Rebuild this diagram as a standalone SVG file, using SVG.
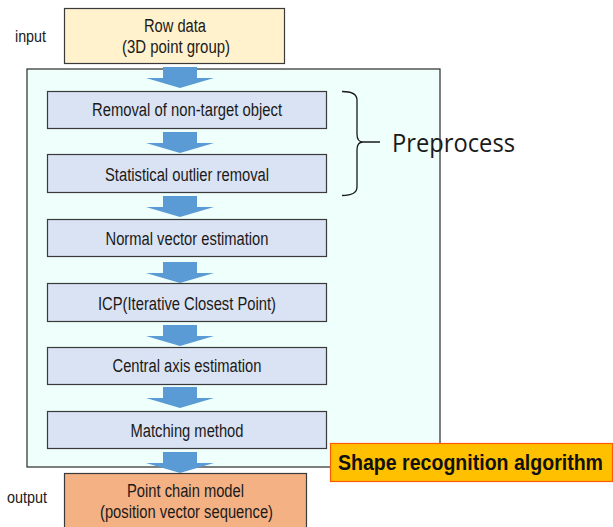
<svg xmlns="http://www.w3.org/2000/svg" width="613" height="527" viewBox="0 0 613 527">
<defs>
<style>
.t{font-family:"Liberation Sans",Arial,sans-serif;font-size:18px;fill:#1a1a1a;text-anchor:middle}
.lbl{font-family:"Liberation Sans",Arial,sans-serif;font-size:16px;fill:#1a1a1a}
.step{fill:#dae3f3;stroke:#3a3a3a;stroke-width:1.2}
.arr{fill:#5b9bd5}
</style>
<polygon id="arrow" points="163,0 197,0 197,11 214,11 180,21 146,11 163,11"/>
</defs>
<rect id="container" x="27" y="69" width="413" height="398" fill="#effffb" stroke="#2a2a2a" stroke-width="1.2"/>
<g id="input">
<rect x="64.5" y="8.5" width="220" height="55" fill="#fff2cc" stroke="#3a3a3a" stroke-width="1.2"/>
<text class="t" x="175" y="32" font-size="16" textLength="62" lengthAdjust="spacingAndGlyphs">Row data</text>
<text class="t" x="176" y="53" font-size="16" textLength="108" lengthAdjust="spacingAndGlyphs">(3D point group)</text>
</g>
<text class="lbl" x="15" y="42" textLength="31" lengthAdjust="spacingAndGlyphs">input</text>
<g id="n1"><rect class="step" x="47.5" y="91.5" width="279" height="37"/><text class="t" x="187" y="116" textLength="190" lengthAdjust="spacingAndGlyphs">Removal of non-target object</text></g>
<g id="n2"><rect class="step" x="47.5" y="154.5" width="279" height="38"/><text class="t" x="187" y="181" textLength="164" lengthAdjust="spacingAndGlyphs">Statistical outlier removal</text></g>
<g id="n3"><rect class="step" x="47.5" y="219.5" width="279" height="37"/><text class="t" x="187" y="245" textLength="163" lengthAdjust="spacingAndGlyphs">Normal vector estimation</text></g>
<g id="n4"><rect class="step" x="47.5" y="283.5" width="279" height="38"/><text class="t" x="187" y="310" textLength="178" lengthAdjust="spacingAndGlyphs">ICP(Iterative Closest Point)</text></g>
<g id="n5"><rect class="step" x="47.5" y="347.5" width="279" height="37"/><text class="t" x="187" y="372" textLength="149" lengthAdjust="spacingAndGlyphs">Central axis estimation</text></g>
<g id="n6"><rect class="step" x="47.5" y="411.5" width="279" height="37"/><text class="t" x="187" y="437" textLength="113" lengthAdjust="spacingAndGlyphs">Matching method</text></g>
<g id="output">
<rect x="64.5" y="473.5" width="242" height="60" fill="#f4b183" stroke="#3a3a3a" stroke-width="1.2"/>
<text class="t" x="185.5" y="497" font-size="17" textLength="117" lengthAdjust="spacingAndGlyphs">Point chain model</text>
<text class="t" x="186.5" y="518" font-size="17" textLength="173" lengthAdjust="spacingAndGlyphs">(position vector sequence)</text>
</g>
<text class="lbl" x="7" y="503" textLength="40" lengthAdjust="spacingAndGlyphs">output</text>
<g id="connectors" class="arr">
<use href="#arrow" y="67"/>
<use href="#arrow" y="132"/>
<use href="#arrow" y="196"/>
<use href="#arrow" y="262"/>
<use href="#arrow" y="325"/>
<use href="#arrow" y="387"/>
<use href="#arrow" y="452"/>
</g>
<g id="preprocess">
<path d="M342,91.5 Q357,91.5 357,100 L357,134 Q357,142 363,142 L380,142 M363,142 Q357,142 357,150 L357,187 Q357,195.5 342,195.5" fill="none" stroke="#1a1a1a" stroke-width="1.3"/>
<text x="392" y="152" font-family="'Open Sans',sans-serif" font-size="25" fill="#1a1a1a" textLength="123" lengthAdjust="spacingAndGlyphs">Preprocess</text>
</g>
<g id="title">
<rect x="330.5" y="443.5" width="282" height="38" fill="#ffc000" stroke="#ff5a00" stroke-width="1.2"/>
<text x="338" y="470" font-family="'Liberation Sans',Arial,sans-serif" font-size="22" font-weight="bold" fill="#111" textLength="265" lengthAdjust="spacingAndGlyphs">Shape recognition algorithm</text>
</g>
</svg>
